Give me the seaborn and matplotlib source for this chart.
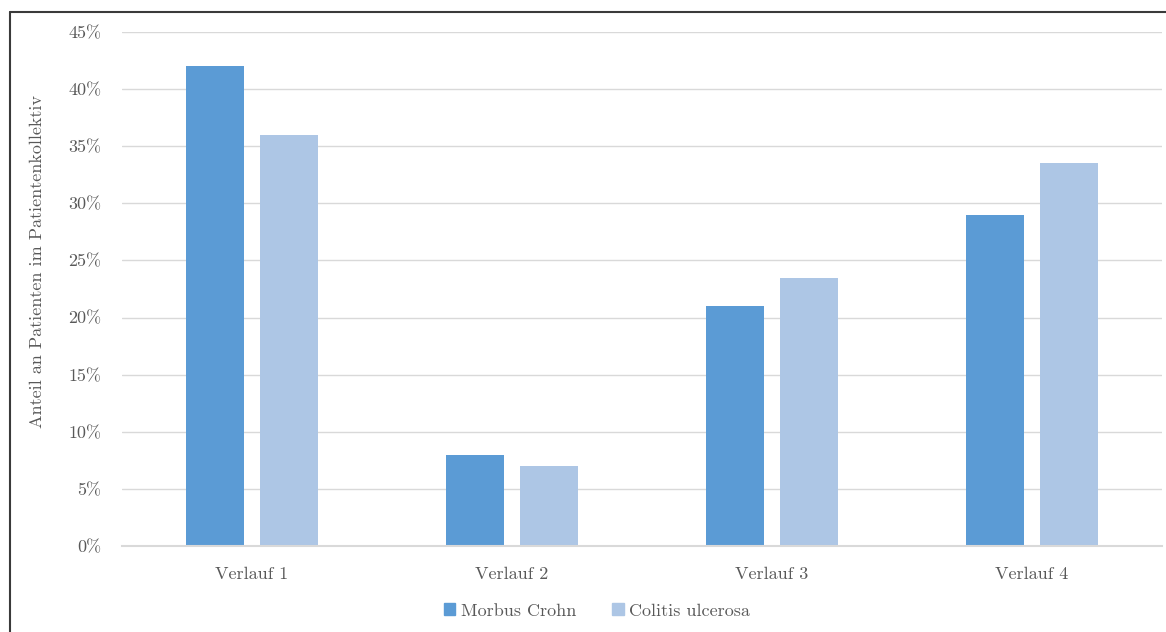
import matplotlib
matplotlib.use("Agg")
import matplotlib.pyplot as plt
import matplotlib.patches as mpatches
from matplotlib.ticker import FuncFormatter, MultipleLocator
import seaborn as sns
import pandas as pd

# data
categories = ["Verlauf 1", "Verlauf 2", "Verlauf 3", "Verlauf 4"]
series = ["Morbus Crohn", "Colitis ulcerosa"]
morbus_crohn = [42.0, 8.0, 21.0, 29.0]
colitis_ulcerosa = [36.0, 7.0, 23.5, 33.5]
ylabel = "Anteil an Patienten im Patientenkollektiv"

colors = ["#5B9BD5", "#ADC6E5"]
text_color = "#595959"

df = pd.DataFrame({
    "Verlauf": categories * 2,
    "Gruppe": [series[0]] * 4 + [series[1]] * 4,
    "Anteil": morbus_crohn + colitis_ulcerosa,
})

sns.set_style("white")
plt.rcParams["font.family"] = ["cmr10", "DejaVu Serif"]
plt.rcParams["axes.unicode_minus"] = False

W, H = 1166, 632
fig = plt.figure(figsize=(W / 100, H / 100), dpi=100)
ax = fig.add_axes([122 / W, 1 - 546 / H, (1162 - 122) / W, (546 - 32) / H])

sns.barplot(data=df, x="Verlauf", y="Anteil", hue="Gruppe", palette=colors,
            width=0.569, gap=0.216, saturation=1, ax=ax, legend=False,
            edgecolor="none", linewidth=0)

ax.set_xlim(-0.5, 3.5)
ax.set_ylim(0, 45)
ax.yaxis.set_major_locator(MultipleLocator(5))
ax.yaxis.set_major_formatter(FuncFormatter(lambda v, p: f"{v:.0f}%"))
ax.grid(axis="y", color="#D9D9D9", linewidth=1)
ax.set_axisbelow(True)
for s in ["top", "right", "left"]:
    ax.spines[s].set_visible(False)
ax.spines["bottom"].set_color("#D9D9D9")
ax.spines["bottom"].set_linewidth(1.5)

fs = 13
ax.tick_params(axis="y", length=0, pad=15, labelsize=fs, labelcolor=text_color)
ax.tick_params(axis="x", length=0, pad=15, labelsize=fs, labelcolor=text_color)
ax.set_xlabel("")
ax.set_ylabel(ylabel, fontsize=fs, color=text_color)
ax.yaxis.set_label_coords(-(122 - 45) / (1162 - 122), (546 - 261) / (546 - 32))

handles = [mpatches.Patch(color=c, label=s) for c, s in zip(colors, series)]
fig.legend(handles=handles, loc="center", bbox_to_anchor=(597 / W, 1 - 611 / H),
           ncol=2, frameon=False, fontsize=fs, labelcolor=text_color,
           handlelength=0.65, handleheight=0.65, handletextpad=0.3, columnspacing=2.0)

# outer chart frame (only top and left edges are visible in the crop)
fig.add_artist(plt.Line2D([10 / W, 1.01], [1 - 12 / H, 1 - 12 / H],
                          transform=fig.transFigure, color="#3a3a3a", linewidth=1.5))
fig.add_artist(plt.Line2D([10 / W, 10 / W], [-0.01, 1 - 12 / H],
                          transform=fig.transFigure, color="#3a3a3a", linewidth=1.5))

fig.savefig("out.png", dpi=100)
